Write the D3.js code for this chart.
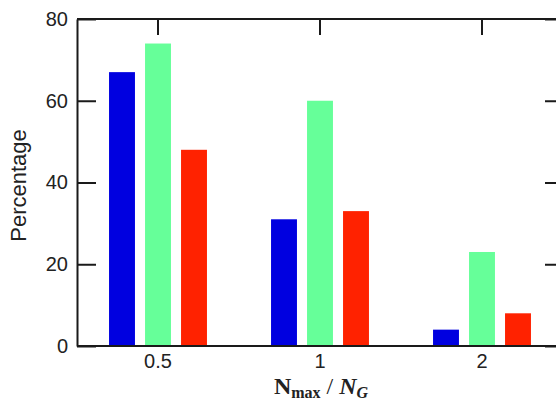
<!DOCTYPE html>
<html>
<head>
<meta charset="utf-8">
<script src="https://cdn.jsdelivr.net/npm/d3@7"></script>
<style>
  html, body { margin: 0; padding: 0; background: #fff; }
  svg { display: block; }
</style>
</head>
<body>
<svg id="chart" width="556" height="403"></svg>
<script>
const categories = ["0.5", "1", "2"];
const seriesNames = ["blue", "green", "red"];
const blueValues = [67, 31, 4];
const greenValues = [74, 60, 23];
const redValues = [48, 33, 8];
const yTicks = [0, 20, 40, 60, 80];
const colors = ["#0000e0", "#66ff99", "#ff2200"];

const seriesValues = [blueValues, greenValues, redValues];
const data = [];
categories.forEach((c, i) => {
  seriesNames.forEach((s, j) => data.push({ cat: c, series: s, si: j, value: seriesValues[j][i] }));
});

const svg = d3.select("#chart");
const mLeft = 77, mRight = 563, mTop = 19, mBottom = 346;

const x = d3.scaleBand().domain(categories).range([mLeft, mRight]).padding(0);
const xi = d3.scaleBand().domain(seriesNames).range([-54, 54]).paddingInner(0.28).paddingOuter(0.14);
const y = d3.scaleLinear().domain([0, 80]).range([mBottom, mTop]);

// bars
svg.append("g").selectAll("rect").data(data).join("rect")
  .attr("x", d => x(d.cat) + x.bandwidth() / 2 + xi(d.series))
  .attr("width", xi.bandwidth())
  .attr("y", d => y(d.value))
  .attr("height", d => y(0) - y(d.value))
  .attr("fill", d => colors[d.si]);

const axisColor = "#1a1a1a";
function styleAxis(g) {
  g.select(".domain").attr("stroke", axisColor).attr("stroke-width", 2);
  g.selectAll(".tick line").attr("stroke", axisColor).attr("stroke-width", 2);
  g.selectAll(".tick text").attr("fill", "#222").attr("font-family", "Liberation Sans, Arial, sans-serif").attr("font-size", 20);
}

// left axis: inward ticks, labels outside
const leftAxis = svg.append("g").attr("transform", `translate(${mLeft},0)`)
  .call(d3.axisLeft(y).tickValues(yTicks).tickSizeInner(-19).tickSizeOuter(0).tickPadding(28).tickFormat(d3.format("d")));
styleAxis(leftAxis);
leftAxis.selectAll(".tick text").attr("x", -9);

// right axis: inward ticks, no labels
const rightAxis = svg.append("g").attr("transform", `translate(${mRight},0)`)
  .call(d3.axisRight(y).tickValues(yTicks).tickSizeInner(-18).tickSizeOuter(0).tickFormat(""));
styleAxis(rightAxis);

// bottom axis: no ticks, labels
const bottomAxis = svg.append("g").attr("transform", `translate(0,${mBottom})`)
  .call(d3.axisBottom(x).tickSizeInner(0).tickSizeOuter(0).tickPadding(8));
styleAxis(bottomAxis);
bottomAxis.select(".domain").attr("d", `M${mLeft},0H${mRight}`);

// top axis: inward ticks, no labels
const topAxis = svg.append("g").attr("transform", `translate(0,${mTop})`)
  .call(d3.axisTop(x).tickSizeInner(-16).tickSizeOuter(0).tickFormat(""));
styleAxis(topAxis);
topAxis.select(".domain").attr("d", `M${mLeft},0H${mRight}`);

// y label
svg.append("text")
  .attr("transform", `translate(26,${(mTop + mBottom) / 2 + 3}) rotate(-90)`)
  .attr("text-anchor", "middle")
  .attr("font-family", "Liberation Sans, Arial, sans-serif")
  .attr("font-size", 22)
  .attr("fill", "#222")
  .text("Percentage");

// x label
const xl = svg.append("text")
  .attr("x", 321).attr("y", 394)
  .attr("text-anchor", "middle")
  .attr("font-family", "Liberation Serif, Times New Roman, serif")
  .attr("font-size", 24)
  .attr("font-weight", "bold")
  .attr("fill", "#222");
xl.append("tspan").text("N");
xl.append("tspan").attr("font-size", 16).attr("dy", 4).text("max");
xl.append("tspan").attr("dy", -4).attr("font-weight", "normal").text(" / ");
xl.append("tspan").attr("font-style", "italic").text("N");
xl.append("tspan").attr("font-style", "italic").attr("font-size", 16).attr("dy", 4).text("G");
</script>
</body>
</html>
